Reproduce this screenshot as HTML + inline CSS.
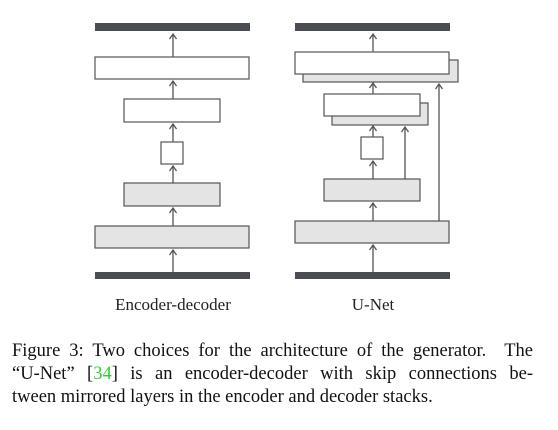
<!DOCTYPE html>
<html><head><style>
body{margin:0;background:#fff;width:558px;height:430px;overflow:hidden;position:relative}
svg{position:absolute;left:0;top:0}
.cap{position:absolute;left:12px;top:340px;width:521px;font-family:"Liberation Serif",serif;font-size:18.5px;line-height:23px;color:#111}
.cap div{text-align:justify;text-align-last:justify;white-space:nowrap}
.cap div.l{text-align-last:left}
</style></head><body>
<svg width="558" height="430" viewBox="0 0 558 430">
<g fill="#4a4d52">
<rect x="95" y="23" width="155" height="8"/><rect x="95" y="272" width="155" height="7"/>
<rect x="295" y="23" width="155" height="8"/><rect x="295" y="272" width="155" height="7"/>
</g>
<g stroke="#555" stroke-width="1.2">
<rect x="95" y="57" width="154" height="22" fill="#fff"/>
<rect x="124" y="99" width="96" height="23" fill="#fff"/>
<rect x="161" y="142" width="22" height="22" fill="#fff"/>
<rect x="124" y="183" width="96" height="23" fill="#e4e4e4"/>
<rect x="95" y="226" width="154" height="22" fill="#e4e4e4"/>
<rect x="303" y="60" width="155" height="22" fill="#e4e4e4"/>
<rect x="295" y="52" width="154" height="22" fill="#fff"/>
<rect x="332" y="103" width="96" height="22" fill="#e4e4e4"/>
<rect x="324" y="94" width="96" height="22" fill="#fff"/>
<rect x="361" y="137" width="22" height="22" fill="#fff"/>
<rect x="324" y="179" width="96" height="22" fill="#e4e4e4"/>
<rect x="295" y="221" width="154" height="22" fill="#e4e4e4"/>
</g>
<g stroke="#555" stroke-width="1.3" fill="none">
<path d="M173 57V34M169.5 39l3.5-5 3.5 5"/>
<path d="M173 99V81M169.5 86l3.5-5 3.5 5"/>
<path d="M173 142V124M169.5 129l3.5-5 3.5 5"/>
<path d="M173 183V166M169.5 171l3.5-5 3.5 5"/>
<path d="M173 226V208M169.5 213l3.5-5 3.5 5"/>
<path d="M173 272V250M169.5 255l3.5-5 3.5 5"/>
<path d="M373 52V34M369.5 39l3.5-5 3.5 5"/>
<path d="M373 94V83M369.5 88l3.5-5 3.5 5"/>
<path d="M373 137V126M369.5 131l3.5-5 3.5 5"/>
<path d="M373 179V161M369.5 166l3.5-5 3.5 5"/>
<path d="M373 221V203M369.5 208l3.5-5 3.5 5"/>
<path d="M373 272V245M369.5 250l3.5-5 3.5 5"/>
<path d="M439 221V84M435.5 89l3.5-5 3.5 5"/>
<path d="M405 179V127M401.5 132l3.5-5 3.5 5"/>
</g>
<g font-family="Liberation Serif,serif" font-size="17" fill="#222" text-anchor="middle">
<text x="173" y="310">Encoder-decoder</text>
<text x="373" y="310">U-Net</text>
</g>
</svg>
<div class="cap">
<div>Figure 3: Two choices for the architecture of the generator. &nbsp;The</div>
<div>“U-Net” [<span style="color:#2fcf2f">34</span>] is an encoder-decoder with skip connections be-</div>
<div class="l">tween mirrored layers in the encoder and decoder stacks.</div>
</div>
</body></html>
